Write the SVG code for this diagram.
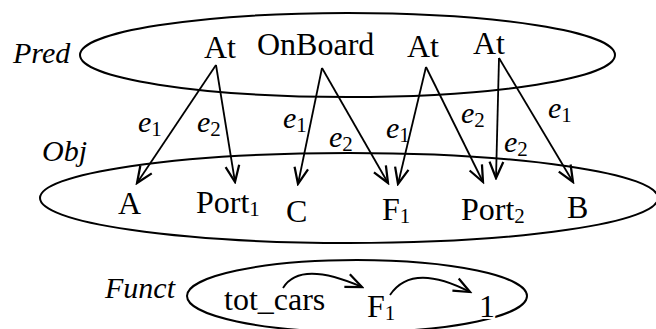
<svg xmlns="http://www.w3.org/2000/svg" width="656" height="329" viewBox="0 0 656 329">
<defs>
<style>
.t{font-family:"Liberation Serif","Times New Roman",serif;font-size:32px;fill:#000}
.i{font-style:italic;font-size:30px}
.s{font-size:21px;font-style:normal}
.el{fill:none;stroke:#000;stroke-width:2}
.c{fill:none;stroke:#000;stroke-width:1.8;marker-end:url(#ah)}
</style>
<marker id="ah" markerUnits="userSpaceOnUse" markerWidth="20" markerHeight="20" viewBox="-14 -8 16 16" refX="0" refY="0" orient="auto">
<path d="M-13,-5.5 L0,0 L-13,5.5" fill="none" stroke="#000" stroke-width="1.8"/>
</marker>
</defs>
<rect width="656" height="329" fill="#fff"/>
<g id="sets">
<ellipse class="el" cx="347.5" cy="55" rx="267.5" ry="42"/>
<ellipse class="el" cx="349" cy="198" rx="309" ry="45"/>
<ellipse class="el" cx="357" cy="296" rx="170" ry="36"/>
<text class="t i" x="13" y="63">Pred</text>
<text class="t i" x="42" y="161">Obj</text>
<text class="t i" x="105" y="298">Funct</text>
</g>
<g id="connectors">
<line class="c" x1="216" y1="65" x2="137" y2="183"/>
<line class="c" x1="216" y1="65" x2="235" y2="182"/>
<line class="c" x1="322" y1="68" x2="298" y2="184"/>
<line class="c" x1="322" y1="68" x2="388" y2="183"/>
<line class="c" x1="426" y1="67" x2="398" y2="184"/>
<line class="c" x1="426" y1="67" x2="483" y2="182"/>
<line class="c" x1="499" y1="58" x2="496" y2="178"/>
<line class="c" x1="499" y1="58" x2="573" y2="182"/>
<path class="c" d="M283,288 Q300,260 362,287"/>
<path class="c" d="M390,295 Q412,262 470,292"/>
<text class="t i" x="138" y="132">e<tspan class="s" dy="4">1</tspan></text>
<text class="t i" x="197" y="132">e<tspan class="s" dy="4">2</tspan></text>
<text class="t i" x="283" y="128">e<tspan class="s" dy="4">1</tspan></text>
<text class="t i" x="329" y="147">e<tspan class="s" dy="4">2</tspan></text>
<text class="t i" x="386" y="138">e<tspan class="s" dy="4">1</tspan></text>
<text class="t i" x="461" y="123">e<tspan class="s" dy="4">2</tspan></text>
<text class="t i" x="504" y="152">e<tspan class="s" dy="4">2</tspan></text>
<text class="t i" x="548" y="118">e<tspan class="s" dy="4">1</tspan></text>
</g>
<g id="pred-at1"><text class="t" x="204" y="58">At</text></g>
<g id="pred-onboard"><text class="t" x="257" y="55">OnBoard</text></g>
<g id="pred-at2"><text class="t" x="407" y="57">At</text></g>
<g id="pred-at3"><text class="t" x="473" y="54">At</text></g>
<g id="obj-a"><text class="t" x="118" y="214">A</text></g>
<g id="obj-port1"><text class="t" x="196" y="213">Port<tspan class="s" dy="3">1</tspan></text></g>
<g id="obj-c"><text class="t" x="286" y="222">C</text></g>
<g id="obj-f1"><text class="t" x="382" y="220">F<tspan class="s" dy="3">1</tspan></text></g>
<g id="obj-port2"><text class="t" x="461" y="220">Port<tspan class="s" dy="3">2</tspan></text></g>
<g id="obj-b"><text class="t" x="567" y="218">B</text></g>
<g id="funct-totcars"><text class="t" x="224" y="310">tot_cars</text></g>
<g id="funct-f1"><text class="t" x="367" y="317">F<tspan class="s" dy="3">1</tspan></text></g>
<g id="funct-1"><text class="t" x="479" y="317" stroke="#fff" stroke-width="4" paint-order="stroke">1</text></g>
</svg>
